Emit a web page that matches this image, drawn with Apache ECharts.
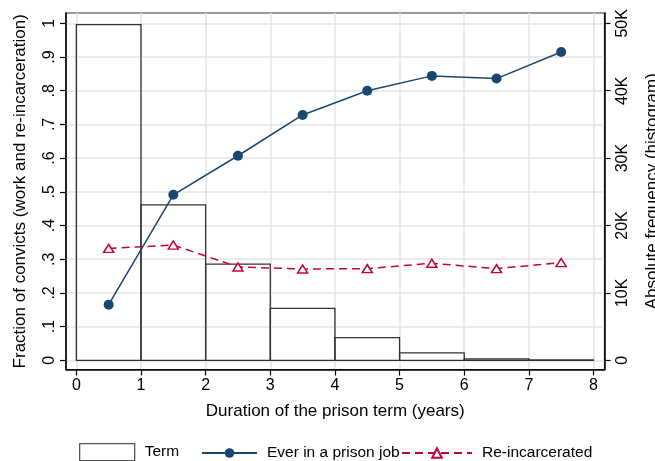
<!DOCTYPE html>
<html>
<head>
<meta charset="utf-8">
<script src="https://cdn.jsdelivr.net/npm/echarts@6/dist/echarts.min.js"></script>
<style>
	html, body { margin: 0; padding: 0; background: #fff; }
	#main { width: 655px; height: 461px; }
</style>
</head>
<body>
<div id="main"></div>
<script>
'use strict';

// histogram bins (years) and counts
var binStart = [0, 1, 2, 3, 4, 5, 6, 7];
var binEnd = [1, 2, 3, 4, 5, 6, 7, 8];
var termCount = [49800, 23060, 14260, 7690, 3370, 1090, 200, 50];

// bin midpoints and shares
var midYears = [0.5, 1.5, 2.5, 3.5, 4.5, 5.5, 6.5, 7.5];
var everJob = [0.165, 0.491, 0.607, 0.728, 0.800, 0.844, 0.836, 0.915];
var reincarc = [0.332, 0.342, 0.277, 0.271, 0.272, 0.288, 0.272, 0.290];

// tick values
var xTicks = [0, 1, 2, 3, 4, 5, 6, 7, 8];
var yTicks = [0, 0.1, 0.2, 0.3, 0.4, 0.5, 0.6, 0.7, 0.8, 0.9, 1];
var y2Ticks = [0, 10000, 20000, 30000, 40000, 50000];

var FONT = 'Liberation Sans, Arial, sans-serif';
var navy = '#1a476f';
var red = '#c10534';

var myChart = echarts.init(document.getElementById('main'));

var histData = binStart.map(function (s, i) {
	return [s, binEnd[i], termCount[i]];
});
var jobData = midYears.map(function (x, i) { return [x, everJob[i]]; });
var reincData = midYears.map(function (x, i) { return [x, reincarc[i]]; });

function fracLabel(v) {
	if (v === 0) return '0';
	if (v === 1) return '1';
	return v.toFixed(1).replace(/^0/, '');
}

var legendText = { fontFamily: FONT, fontSize: 15.5, color: '#000', padding: [0, 0, 0, 5] };

var option = {
	animation: false,
	backgroundColor: '#fff',
	textStyle: { fontFamily: FONT, color: '#000' },
	grid: {
		left: 66, right: 50.5, top: 13, bottom: 91.5,
		show: true, borderColor: '#333', borderWidth: 1.2,
		containLabel: false,
		outerBoundsMode: 'none'
	},
	legend: [{
		left: 79, top: 443, padding: 0, itemWidth: 55, itemHeight: 17,
		textStyle: legendText,
		data: [{ name: 'Term', icon: 'rect', itemStyle: { color: '#fff', borderColor: '#555', borderWidth: 1.3 } }]
	}, {
		left: 201, top: 445, padding: 0, itemWidth: 55, itemHeight: 12,
		textStyle: legendText,
		data: [{ name: 'Ever in a prison job', itemStyle: { color: navy } }]
	}, {
		left: 401, top: 445, padding: 0, itemWidth: 70, itemHeight: 12,
		textStyle: legendText,
		data: ['Re-incarcerated']
	}],
	xAxis: {
		type: 'value',
		min: -0.16, max: 8.17,
		name: 'Duration of the prison term (years)',
		nameLocation: 'middle', nameGap: 33,
		nameTextStyle: { fontFamily: FONT, fontSize: 17, color: '#000' },
		axisLine: { show: true, onZero: false, lineStyle: { color: '#000', width: 1.5 } },
		axisTick: { show: true, customValues: xTicks, length: 6, lineStyle: { color: '#000', width: 1.2 } },
		axisLabel: { customValues: xTicks, fontFamily: FONT, fontSize: 16, color: '#000', margin: 8 },
		splitLine: { show: true, lineStyle: { color: '#e3e3e3', width: 1.5 } }
	},
	yAxis: [{
		type: 'value',
		min: -0.0273, max: 1.0306,
		position: 'left',
		name: 'Fraction of convicts (work and re-incarceration)',
		nameLocation: 'middle', nameRotate: 90, nameGap: 37,
		nameTextStyle: { fontFamily: FONT, fontSize: 17, color: '#000' },
		axisLine: { show: true, onZero: false, lineStyle: { color: '#000', width: 1.5 } },
		axisTick: { show: true, customValues: yTicks, length: 6, lineStyle: { color: '#000', width: 1.2 } },
		axisLabel: { customValues: yTicks, rotate: 90, fontFamily: FONT, fontSize: 16, color: '#000', margin: 8, formatter: fracLabel },
		splitLine: { show: true, lineStyle: { color: '#e3e3e3', width: 1.5 } }
	}, {
		type: 'value',
		min: -1365, max: 51530,
		position: 'right',
		name: 'Absolute frequency (histogram)',
		nameLocation: 'middle', nameRotate: 90, nameGap: 39,
		nameTextStyle: { fontFamily: FONT, fontSize: 17, color: '#000' },
		axisLine: { show: true, onZero: false, lineStyle: { color: '#000', width: 1.5 } },
		axisTick: { show: true, customValues: y2Ticks, length: 6, lineStyle: { color: '#000', width: 1.2 } },
		axisLabel: {
			customValues: y2Ticks, rotate: 90, fontFamily: FONT, fontSize: 16, color: '#000', margin: 10,
			formatter: function (v) { return v === 0 ? '0' : (v / 1000) + 'K'; }
		},
		splitLine: { show: false }
	}],
	series: [{
		name: 'Term',
		type: 'custom',
		yAxisIndex: 1,
		encode: { x: [0, 1], y: 2 },
		data: histData,
		renderItem: function (params, api) {
			var p0 = api.coord([api.value(0), api.value(2)]);
			var p1 = api.coord([api.value(1), 0]);
			return {
				type: 'rect',
				shape: { x: p0[0], y: p0[1], width: p1[0] - p0[0], height: p1[1] - p0[1] },
				style: { fill: 'none', stroke: '#333', lineWidth: 1.3 }
			};
		},
		z: 2
	}, {
		name: 'Ever in a prison job',
		type: 'line',
		data: jobData,
		symbol: 'circle',
		symbolSize: 10,
		lineStyle: { color: navy, width: 1.5 },
		itemStyle: { color: navy },
		z: 4
	}, {
		name: 'Re-incarcerated',
		type: 'line',
		data: reincData,
		symbol: 'triangle',
		symbolSize: [10, 8],
		lineStyle: { color: red, width: 1.5, type: [8, 5] },
		itemStyle: { color: '#fff', borderColor: red, borderWidth: 1.5 },
		z: 3
	}]
};

myChart.setOption(option);
</script>
</body>
</html>
